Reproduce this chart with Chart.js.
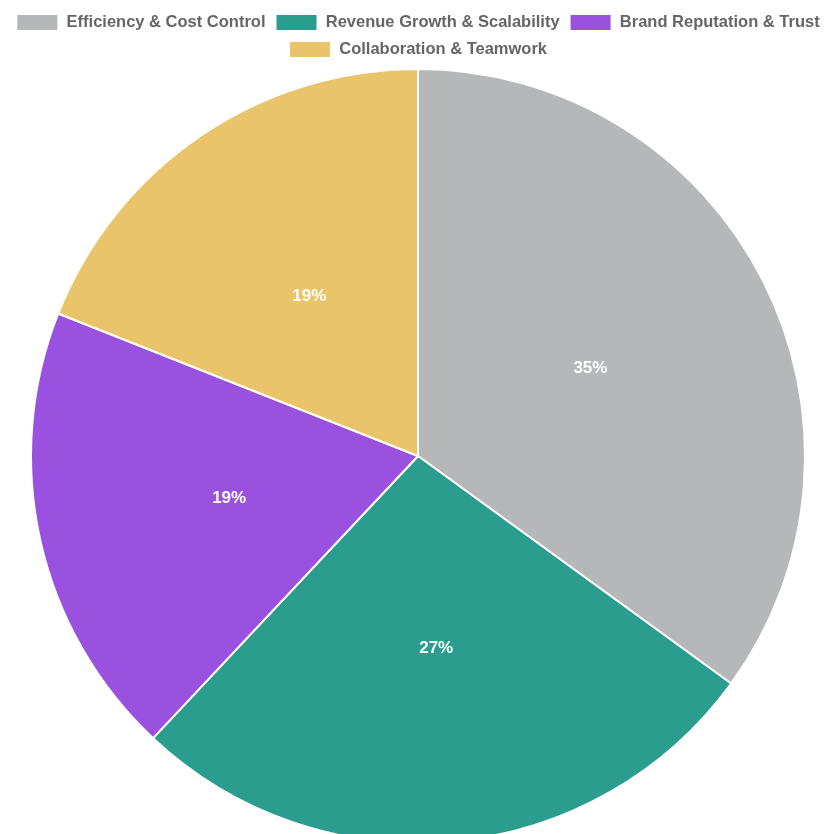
<!DOCTYPE html>
<html>
<head>
<meta charset="utf-8">
<title>Priorities</title>
<script src="https://cdn.jsdelivr.net/npm/chart.js@4/dist/chart.umd.min.js"></script>
<style>
    html, body { margin: 0; padding: 0; background: #fff; overflow: hidden; }
    .chart-box { width: 840px; height: 844px; position: relative; margin-left: -2px; }
</style>
</head>
<body>
<div class="chart-box">
    <canvas id="pieChart"></canvas>
</div>
<script>
// Chart data
const categories = ['Efficiency & Cost Control', 'Revenue Growth & Scalability', 'Brand Reputation & Trust', 'Collaboration & Teamwork'];
const shares = [35, 27, 19, 19];
const sliceColors = ['#B6B7B9', '#2A9D8F', '#9B51E0', '#E9C46A'];

// Draws the percentage in the middle of each slice
const sliceLabels = {
    id: 'sliceLabels',
    afterDatasetsDraw(chart) {
        const ctx = chart.ctx;
        const meta = chart.getDatasetMeta(0);
        const total = shares.reduce((a, b) => a + b, 0);
        ctx.save();
        ctx.fillStyle = '#fff';
        ctx.font = 'bold 17px "Liberation Sans", Arial, sans-serif';
        ctx.textAlign = 'center';
        ctx.textBaseline = 'middle';
        meta.data.forEach((arc, i) => {
            const pos = arc.tooltipPosition();
            ctx.fillText(Math.round(shares[i] / total * 100) + '%', pos.x, pos.y);
        });
        ctx.restore();
    }
};

document.addEventListener('DOMContentLoaded', () => {
    const ctx = document.getElementById('pieChart').getContext('2d');
    new Chart(ctx, {
        type: 'pie',
        data: {
            labels: categories,
            datasets: [{
                data: shares,
                backgroundColor: sliceColors,
                borderColor: '#fff',
                borderWidth: 2
            }]
        },
        options: {
            responsive: true,
            maintainAspectRatio: false,
            animation: false,
            layout: { padding: { top: 4 } },
            plugins: {
                legend: {
                    position: 'top',
                    labels: {
                        boxWidth: 42,
                        boxHeight: 17,
                        padding: 10,
                        color: '#666',
                        font: { family: '"Liberation Sans", Arial, sans-serif', size: 16.5, weight: 'bold' }
                    }
                },
                tooltip: { enabled: false }
            }
        },
        plugins: [sliceLabels]
    });
});
</script>
</body>
</html>
